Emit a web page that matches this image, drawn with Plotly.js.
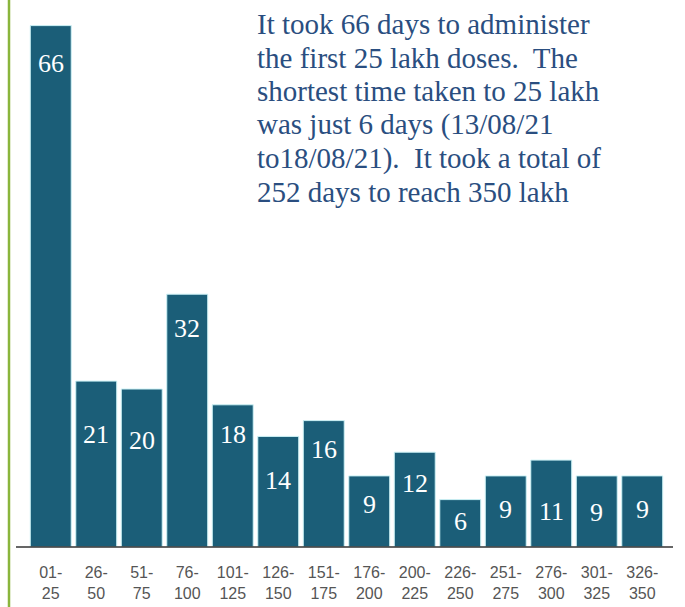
<!DOCTYPE html>
<html>
<head>
<meta charset="utf-8">
<script src="https://cdn.plot.ly/plotly-3.0.1.min.js"></script>
<style>html,body{margin:0;padding:0;background:#fff;}#chart{width:685px;height:607px;}</style>
</head>
<body>
<div id="chart"></div>
<script>
// Data
const categories = ['01-25','26-50','51-75','76-100','101-125','126-150','151-175','176-200','200-225','226-250','251-275','276-300','301-325','326-350'];
const tickLabels = ['01-<br>25','26-<br>50','51-<br>75','76-<br>100','101-<br>125','126-<br>150','151-<br>175','176-<br>200','200-<br>225','226-<br>250','251-<br>275','276-<br>300','301-<br>325','326-<br>350'];
const days = [66, 21, 20, 32, 18, 14, 16, 9, 12, 6, 9, 11, 9, 9];
const noteLines = [
  'It took 66 days to administer',
  'the first 25 lakh doses.&nbsp; The',
  'shortest time taken to 25 lakh',
  'was just 6 days (13/08/21',
  'to18/08/21).&nbsp; It took a total of',
  '252 days to reach 350 lakh'
];

// Label drop (pixels below bar top) - layout only
const labelDrop = [38, 53, 51, 34, 30, 44, 29, 29, 31, 22, 34, 51, 37, 34];

const plotH = 547;
const serif = '"Liberation Serif", "Times New Roman", serif';

const annotations = [];
categories.forEach((c, i) => {
  annotations.push({
    x: c, y: days[i], xref: 'x', yref: 'y',
    text: String(days[i]), showarrow: false,
    yanchor: 'middle', xanchor: 'center', yshift: -labelDrop[i],
    font: {family: serif, size: 26, color: '#ffffff'}
  });
});
noteLines.forEach((t, i) => {
  const ypx = 24 + 33.5 * i;
  annotations.push({
    x: (255 - 28) / 637, y: 1 - ypx / plotH, xref: 'paper', yref: 'paper',
    text: t, showarrow: false, xanchor: 'left', yanchor: 'middle', align: 'left',
    font: {family: serif, size: 29, color: '#2a4e80'}
  });
});

const trace = {
  type: 'bar', x: categories, y: days,
  marker: {color: '#1b5e78', line: {color: '#cdf2f6', width: 1}},
  hoverinfo: 'none'
};

const layout = {
  width: 685, height: 607,
  margin: {l: 28, r: 20, t: 0, b: 60, pad: 0},
  paper_bgcolor: '#ffffff', plot_bgcolor: '#ffffff',
  showlegend: false, bargap: 0.1,
  xaxis: {
    type: 'category', tickvals: categories, ticktext: tickLabels,
    showline: false, ticks: '', showgrid: false, zeroline: false,
    ticklabelstandoff: 14,
    tickfont: {family: '"Liberation Sans", Arial, sans-serif', size: 16, color: '#555555'}
  },
  yaxis: {visible: false, range: [0, plotH / 7.9], showgrid: false, zeroline: false},
  shapes: [
    {type: 'line', xref: 'paper', yref: 'paper', x0: (16 - 28) / 637, x1: (673 - 28) / 637, y0: 0, y1: 0,
     line: {color: '#333333', width: 1.5}},
    {type: 'line', xref: 'paper', yref: 'paper', x0: (9 - 28) / 637, x1: (9 - 28) / 637, y0: -0.12, y1: 1,
     line: {color: '#8ab53c', width: 2.5}}
  ],
  annotations: annotations
};

Plotly.newPlot('chart', [trace], layout, {displayModeBar: false, staticPlot: true});
</script>
</body>
</html>
